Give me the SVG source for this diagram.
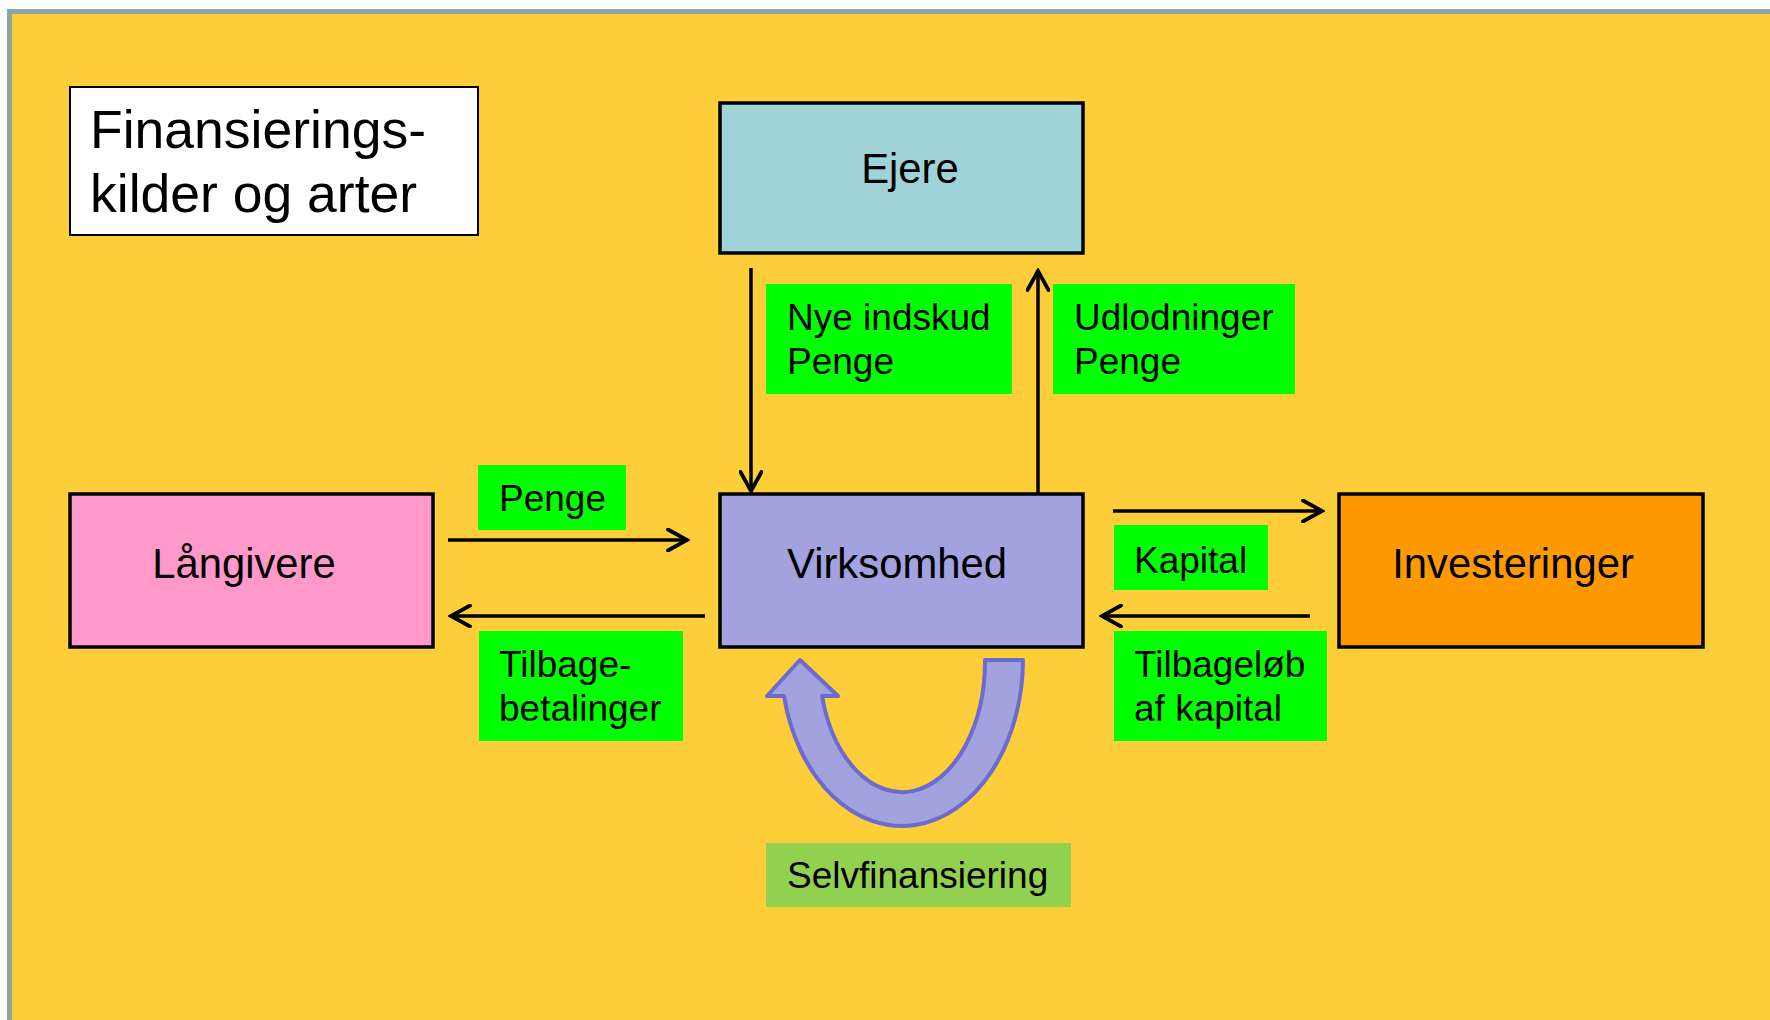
<svg xmlns="http://www.w3.org/2000/svg" width="1770" height="1020" viewBox="0 0 1770 1020">
<defs>
<style>
text{font-family:"Liberation Sans",Arial,sans-serif;fill:#000}
.box{stroke:#000;stroke-width:3.5}
.t42{font-size:41.8px}
.t36{font-size:37px}
.lab{fill:#00FF00}
.conn{stroke:#000;stroke-width:3.5;fill:none}
</style>
<marker id="ah" viewBox="0 0 24 24" refX="21" refY="12" markerWidth="24" markerHeight="24" markerUnits="userSpaceOnUse" orient="auto">
<path d="M2,1.5 L21,12 L2,22.5" fill="none" stroke="#000" stroke-width="3.8" stroke-linecap="round" stroke-linejoin="miter"/>
</marker>
</defs>
<rect x="0" y="0" width="1770" height="1020" fill="#FFFFFF"/>
<rect x="9.5" y="11.5" width="1820" height="1100" fill="#FDCE39" stroke="#8BA5A8" stroke-width="5"/>

<g id="title">
<rect x="70" y="87" width="408" height="148" fill="#FFFFFF" stroke="#000" stroke-width="2"/>
<text x="90" y="148" font-size="53.5">Finansierings-</text>
<text x="90" y="212" font-size="53.5">kilder og arter</text>
</g>

<g id="ejere">
<rect class="box" x="720" y="103" width="363" height="150" fill="#A0D3D7"/>
<text class="t42" x="910" y="183" text-anchor="middle">Ejere</text>
</g>

<g id="virksomhed">
<rect class="box" x="720" y="494" width="363" height="153" fill="#A2A2DE"/>
<text class="t42" x="897" y="578" text-anchor="middle">Virksomhed</text>
</g>

<g id="langivere">
<rect class="box" x="70" y="494" width="363" height="153" fill="#FF99CC"/>
<text class="t42" x="244" y="578" text-anchor="middle">Långivere</text>
</g>

<g id="investeringer">
<rect class="box" x="1339" y="494" width="364" height="153" fill="#FF9900"/>
<text class="t42" x="1513" y="578" text-anchor="middle">Investeringer</text>
</g>

<g id="connectors">
<line class="conn" x1="751" y1="268" x2="751" y2="491" marker-end="url(#ah)"/>
<line class="conn" x1="1038" y1="494" x2="1038" y2="271" marker-end="url(#ah)"/>
<line class="conn" x1="448" y1="540" x2="687" y2="540" marker-end="url(#ah)"/>
<line class="conn" x1="705" y1="616" x2="451" y2="616" marker-end="url(#ah)"/>
<line class="conn" x1="1113" y1="511" x2="1322" y2="511" marker-end="url(#ah)"/>
<line class="conn" x1="1310" y1="616" x2="1102" y2="616" marker-end="url(#ah)"/>
</g>

<g id="selvfinansiering-arrow">
<path d="M985,660 L1023,660 A121,167 0 0 1 784,696 L767,696 L800,660 L838,696 L822,696 A83,131 0 0 0 985,660 Z" fill="#A2A2DE" stroke="#6B6BD0" stroke-width="4" stroke-linejoin="round"/>
</g>

<g id="label-nye">
<rect class="lab" x="766" y="284" width="246" height="110"/>
<text class="t36" x="787" y="330">Nye indskud</text>
<text class="t36" x="787" y="374">Penge</text>
</g>

<g id="label-udlodninger">
<rect class="lab" x="1053" y="284" width="242" height="110"/>
<text class="t36" x="1074" y="330">Udlodninger</text>
<text class="t36" x="1074" y="374">Penge</text>
</g>

<g id="label-penge">
<rect class="lab" x="478" y="465" width="148" height="65"/>
<text class="t36" x="499" y="511">Penge</text>
</g>

<g id="label-tilbagebetalinger">
<rect class="lab" x="479" y="631" width="204" height="110"/>
<text class="t36" x="499" y="677">Tilbage-</text>
<text class="t36" x="499" y="721">betalinger</text>
</g>

<g id="label-kapital">
<rect class="lab" x="1114" y="525" width="154" height="65"/>
<text class="t36" x="1134" y="573">Kapital</text>
</g>

<g id="label-tilbagelob">
<rect class="lab" x="1114" y="631" width="213" height="110"/>
<text class="t36" x="1134" y="677">Tilbageløb</text>
<text class="t36" x="1134" y="721">af kapital</text>
</g>

<g id="label-selvfinansiering">
<rect x="766" y="843" width="305" height="64" fill="#92D050"/>
<text class="t36" x="787" y="888">Selvfinansiering</text>
</g>
</svg>
